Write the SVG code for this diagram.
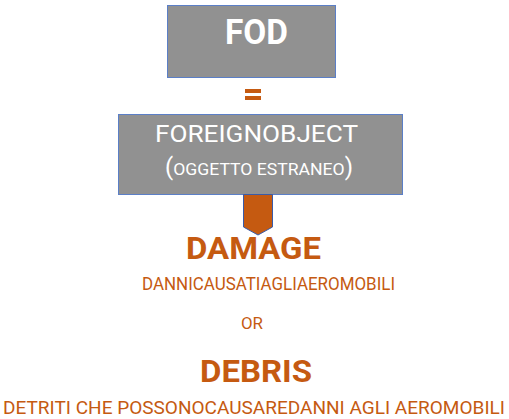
<svg xmlns="http://www.w3.org/2000/svg" width="509" height="419" viewBox="0 0 509 419">
<style>
.box{fill:#919191;stroke:#5b7fc7;stroke-width:1}
.wt{fill:#ffffff;font-family:Roboto,"Liberation Sans",sans-serif;text-anchor:middle}
.or{fill:#c55a11;font-family:Roboto,"Liberation Sans",sans-serif;text-anchor:middle}
.big{font-size:31px;font-weight:bold}
.sub{font-size:19px}
</style>
<rect width="509" height="419" fill="#ffffff"/>
<g id="fod">
<rect class="box" x="167.5" y="5.5" width="168" height="72"/>
<text class="wt" x="256.5" y="44" font-size="35" font-weight="bold" textLength="63" lengthAdjust="spacingAndGlyphs">FOD</text>
</g>
<g id="equals">
<rect x="245" y="89" width="16" height="4" fill="#c55a11"/>
<rect x="245" y="96" width="16" height="4" fill="#c55a11"/>
</g>
<g id="foreign">
<rect class="box" x="118.5" y="114.5" width="284" height="80"/>
<text class="wt" x="256.5" y="142" font-size="24" textLength="203" lengthAdjust="spacingAndGlyphs">FOREIGNOBJECT</text>
<text class="wt" x="259" y="175" font-size="17" textLength="188" lengthAdjust="spacingAndGlyphs"><tspan font-size="23">(</tspan>OGGETTO ESTRANEO<tspan font-size="23">)</tspan></text>
</g>
<g id="connectors">
<path d="M243.5,194.5 L272.5,194.5 L272.5,227 L258,235 L243.5,227 Z" fill="#c55a11" stroke="#3a5ba8" stroke-width="1"/>
</g>
<g id="damage">
<text class="or big" x="253.5" y="259" textLength="135" lengthAdjust="spacingAndGlyphs">DAMAGE</text>
<text class="or sub" x="268.5" y="289.5" textLength="253" lengthAdjust="spacingAndGlyphs">DANNICAUSATIAGLIAEROMOBILI</text>
</g>
<g id="or">
<text class="or" x="252" y="329" font-size="16" textLength="22" lengthAdjust="spacingAndGlyphs">OR</text>
</g>
<g id="debris">
<text class="or big" x="256" y="382" textLength="112" lengthAdjust="spacingAndGlyphs">DEBRIS</text>
<text class="or sub" x="254" y="414" textLength="502" lengthAdjust="spacingAndGlyphs">DETRITI CHE POSSONOCAUSAREDANNI AGLI AEROMOBILI</text>
</g>
</svg>
